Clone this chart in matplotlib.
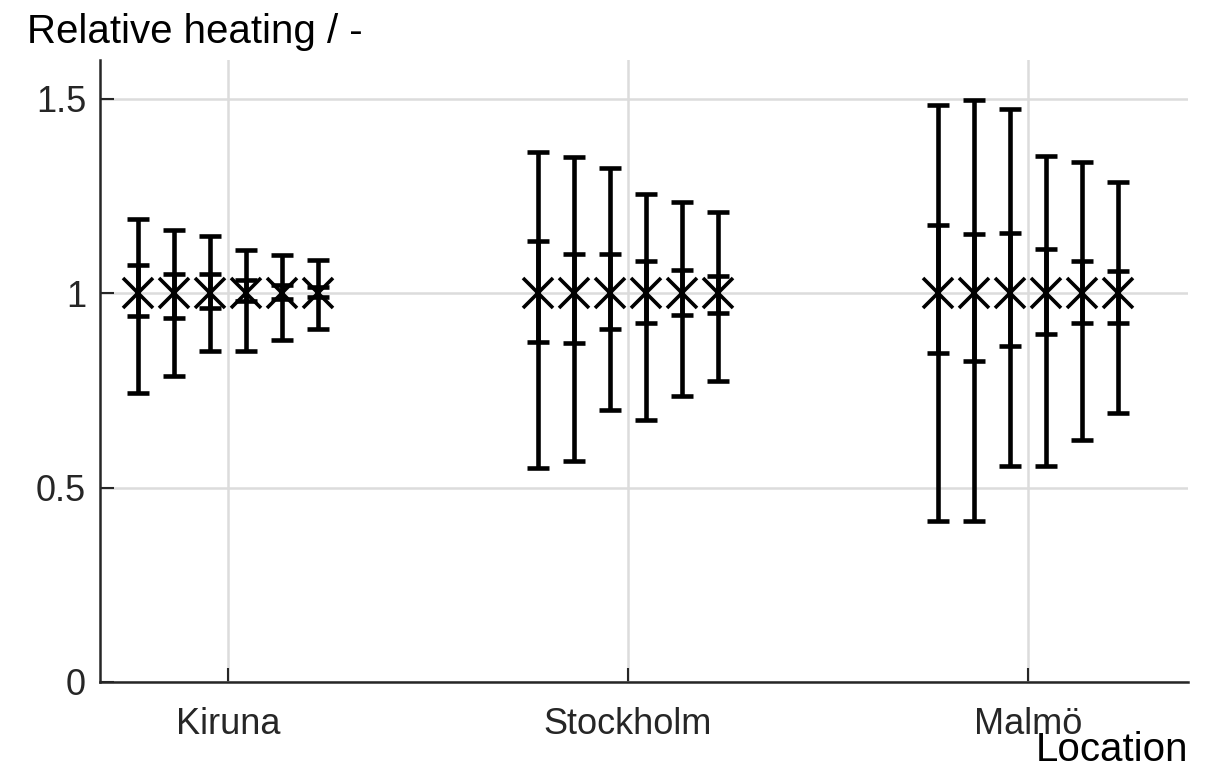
import matplotlib.pyplot as plt
import numpy as np

plt.rcParams['font.family'] = ['Liberation Sans', 'DejaVu Sans']

locations = ['Kiruna', 'Stockholm', 'Malmö']

# relative heating: centre, outer range and inner range for 6 cases per location
centre = [
    [1.0, 1.0, 1.0, 1.0, 1.0, 1.0],
    [1.0, 1.0, 1.0, 1.0, 1.0, 1.0],
    [1.0, 1.0, 1.0, 1.0, 1.0, 1.0],
]
outer_low = [
    [0.744, 0.787, 0.851, 0.851, 0.879, 0.908],
    [0.550, 0.569, 0.700, 0.675, 0.735, 0.774],
    [0.415, 0.414, 0.555, 0.556, 0.622, 0.691],
]
outer_high = [
    [1.191, 1.163, 1.146, 1.110, 1.097, 1.086],
    [1.362, 1.351, 1.321, 1.256, 1.234, 1.210],
    [1.485, 1.498, 1.473, 1.354, 1.338, 1.287],
]
inner_low = [
    [0.941, 0.937, 0.961, 0.979, 0.985, 0.990],
    [0.874, 0.871, 0.909, 0.923, 0.945, 0.948],
    [0.845, 0.826, 0.863, 0.894, 0.924, 0.924],
]
inner_high = [
    [1.073, 1.050, 1.050, 1.035, 1.020, 1.015],
    [1.135, 1.101, 1.101, 1.082, 1.060, 1.043],
    [1.175, 1.152, 1.155, 1.114, 1.082, 1.056],
]

fig = plt.figure(figsize=(12.12, 7.68), dpi=100)
ax = fig.add_axes([0.0825, 0.112, 0.8975, 0.81])

n = len(centre[0])
offsets = (np.arange(n) - (n - 1) / 2) * 0.09

for i, loc in enumerate(locations):
    x = i + 1 + offsets
    c = np.array(centre[i])
    ax.errorbar(x, c, yerr=[c - np.array(outer_low[i]), np.array(outer_high[i]) - c],
                fmt='none', ecolor='black', elinewidth=3.3, capsize=8, capthick=3.3, zorder=3)
    ax.errorbar(x, c, yerr=[c - np.array(inner_low[i]), np.array(inner_high[i]) - c],
                fmt='none', ecolor='black', elinewidth=3.3, capsize=8, capthick=3.3, zorder=3)
    ax.plot(x, c, 'x', color='black', markersize=22, markeredgewidth=2.6, zorder=4)

ax.set_xlim(0.68, 3.4)
ax.set_ylim(0, 1.6)
ax.set_xticks([1, 2, 3])
ax.set_xticklabels(locations)
ax.set_yticks([0, 0.5, 1, 1.5])
ax.set_yticklabels(['0', '0.5', '1', '1.5'])
ax.tick_params(direction='in', length=10, width=1.5, labelsize=26, colors='#262626')
ax.tick_params(axis='x', pad=18)
ax.tick_params(axis='y', pad=10)

ax.grid(True, color='#dcdcdc', linewidth=1.8)
ax.set_axisbelow(True)
for s in ['top', 'right']:
    ax.spines[s].set_visible(False)
for s in ['left', 'bottom']:
    ax.spines[s].set_linewidth(1.8)
    ax.spines[s].set_color('#262626')

fig.text(27 / 1212, 1 - 32 / 768, 'Relative heating / -', fontsize=29,
         ha='left', va='center', color='black')
fig.text(1188 / 1212, 1 - 750 / 768, 'Location', fontsize=29,
         ha='right', va='center', color='black')

fig.savefig('out.png', dpi=100)
